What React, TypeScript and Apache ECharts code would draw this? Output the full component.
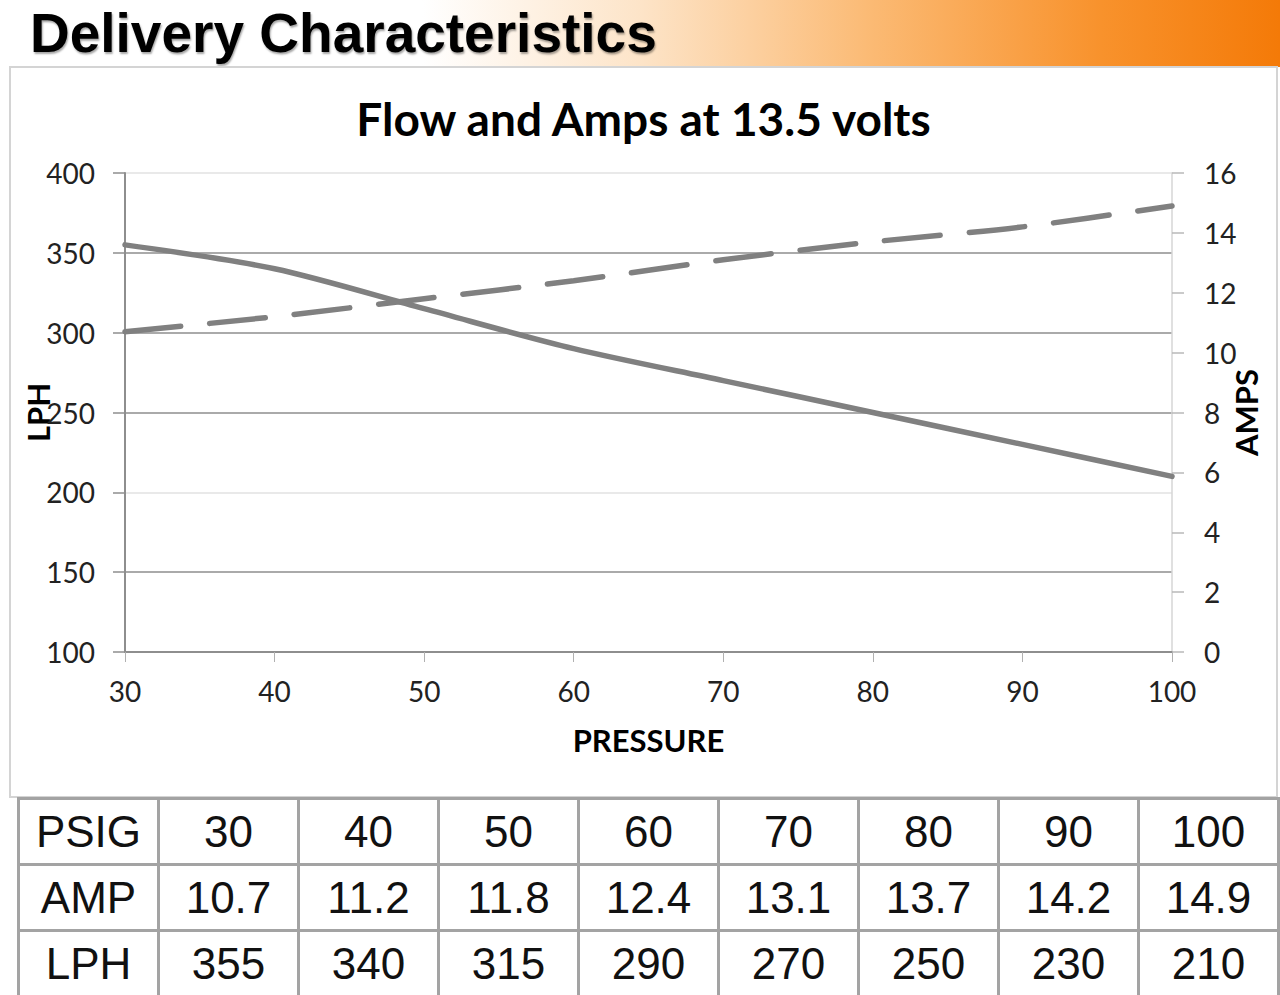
import React, { useEffect, useRef } from "react";
import * as echarts from "echarts";

const pressure = [30, 40, 50, 60, 70, 80, 90, 100];
const amps = [10.7, 11.2, 11.8, 12.4, 13.1, 13.7, 14.2, 14.9];
const lph = [355, 340, 315, 290, 270, 250, 230, 210];

const headerTitle = "Delivery Characteristics";
const chartTitle = "Flow and Amps at 13.5 volts";

const LINE_GRAY = "#808080";
const GRID_DARK = "#8e8e8e";
const GRID_LIGHT = "#e2e2e2";
const CHART_FONT = "Lato, 'Open Sans', sans-serif";

export default function App() {
  const ref = useRef<HTMLDivElement>(null);

  useEffect(() => {
    if (!ref.current) return;
    const chart = echarts.init(ref.current, null, { renderer: "svg" });
    chart.setOption({
      animation: false,
      backgroundColor: "#ffffff",
      title: {
        text: chartTitle,
        left: "center",
        top: 22,
        textStyle: {
          fontFamily: CHART_FONT,
          fontWeight: "bold",
          fontSize: 46,
          color: "#000",
        },
      },
      grid: {
        left: 114,
        right: 104,
        top: 105,
        bottom: 144,
        containLabel: false,
        outerBoundsMode: "none",
      },
      xAxis: {
        type: "value",
        min: 30,
        max: 100,
        interval: 10,
        name: "PRESSURE",
        nameLocation: "middle",
        nameGap: 72,
        nameMoveOverlap: false,
        nameTextStyle: {
          fontFamily: CHART_FONT,
          fontWeight: "bold",
          fontSize: 31,
          color: "#000",
        },
        axisLine: { show: true, lineStyle: { color: GRID_DARK, width: 2 } },
        axisTick: {
          show: true,
          length: 10,
          lineStyle: { color: "#b0b0b0", width: 1 },
        },
        splitLine: { show: false },
        axisLabel: {
          margin: 25,
          fontFamily: CHART_FONT,
          fontSize: 28,
          color: "#222",
        },
      },
      yAxis: [
        {
          type: "value",
          min: 100,
          max: 400,
          interval: 50,
          position: "left",
          name: "LPH",
          nameLocation: "middle",
          nameRotate: 90,
          nameGap: 72,
          nameMoveOverlap: false,
          nameTextStyle: {
            fontFamily: CHART_FONT,
            fontWeight: "bold",
            fontSize: 31,
            color: "#000",
          },
          axisLine: { show: true, lineStyle: { color: GRID_DARK, width: 2 } },
          axisTick: {
            show: true,
            length: 12,
            lineStyle: { color: GRID_DARK, width: 1.5 },
          },
          splitLine: {
            show: true,
            lineStyle: {
              color: [GRID_DARK, GRID_DARK, GRID_LIGHT, GRID_DARK, GRID_DARK, GRID_DARK, GRID_LIGHT],
              width: 1.5,
            },
          },
          axisLabel: {
            margin: 30,
            fontFamily: CHART_FONT,
            fontSize: 28,
            color: "#222",
          },
        },
        {
          type: "value",
          min: 0,
          max: 16,
          interval: 2,
          position: "right",
          name: "AMPS",
          nameLocation: "middle",
          nameRotate: 90,
          nameGap: 58,
          nameMoveOverlap: false,
          nameTextStyle: {
            fontFamily: CHART_FONT,
            fontWeight: "bold",
            fontSize: 31,
            color: "#000",
          },
          axisLine: { show: true, lineStyle: { color: "#d6d6d6", width: 1.5 } },
          axisTick: {
            show: true,
            length: 12,
            lineStyle: { color: "#b8b8b8", width: 1.5 },
          },
          splitLine: { show: false },
          axisLabel: {
            margin: 32,
            fontFamily: CHART_FONT,
            fontSize: 28,
            color: "#222",
          },
        },
      ],
      series: [
        {
          name: "LPH",
          type: "line",
          yAxisIndex: 0,
          smooth: 0.3,
          showSymbol: false,
          data: pressure.map((p, i) => [p, lph[i]]),
          lineStyle: { color: LINE_GRAY, width: 5.5, cap: "round" },
          itemStyle: { color: LINE_GRAY },
        },
        {
          name: "AMPS",
          type: "line",
          yAxisIndex: 1,
          smooth: 0.3,
          showSymbol: false,
          data: pressure.map((p, i) => [p, amps[i]]),
          lineStyle: {
            color: LINE_GRAY,
            width: 5.5,
            type: [56, 29],
            cap: "round",
          },
          itemStyle: { color: LINE_GRAY },
        },
      ],
    });
    return () => chart.dispose();
  }, []);

  const cell: React.CSSProperties = {
    border: "3px solid #a3a3a3",
    width: 140,
    height: 66,
    padding: 0,
    textAlign: "center",
    verticalAlign: "middle",
    fontFamily: "'Liberation Sans', Arial, sans-serif",
    fontSize: 44,
    color: "#111",
    boxSizing: "border-box",
  };

  const rows: { label: string; values: (string | number)[] }[] = [
    { label: "PSIG", values: pressure },
    { label: "AMP", values: amps.map((a) => a.toFixed(1)) },
    { label: "LPH", values: lph },
  ];

  return (
    <div
      style={{
        position: "absolute",
        left: 0,
        top: 0,
        width: 1280,
        height: 995,
        background: "#ffffff",
        overflow: "hidden",
      }}
    >
      <div
        style={{
          position: "absolute",
          left: 0,
          top: 0,
          width: 1280,
          height: 67,
          background:
            "linear-gradient(to right, #ffffff 0%, #ffffff 33%, #fde4c8 50%, #fbba74 68%, #f8922c 86%, #f47a08 100%)",
        }}
      >
        <div
          style={{
            position: "absolute",
            left: 30,
            top: 2,
            fontFamily: "'Liberation Sans', Arial, sans-serif",
            fontWeight: "bold",
            fontSize: 55,
            lineHeight: "62px",
            color: "#000",
            textShadow: "1px 2px 2px rgba(0,0,0,0.35)",
            whiteSpace: "nowrap",
          }}
        >
          {headerTitle}
        </div>
      </div>
      <div
        style={{
          position: "absolute",
          left: 9,
          top: 66,
          width: 1265,
          height: 728,
          border: "2px solid #d4d4d4",
          background: "#fff",
        }}
      >
        <div ref={ref} style={{ width: 1265, height: 728 }} />
      </div>
      <table
        style={{
          position: "absolute",
          left: 17,
          top: 797,
          borderCollapse: "collapse",
          tableLayout: "fixed",
          width: 1261,
        }}
      >
        <tbody>
          {rows.map((r) => (
            <tr key={r.label}>
              <td style={cell}>{r.label}</td>
              {r.values.map((v, i) => (
                <td key={i} style={cell}>
                  {v}
                </td>
              ))}
            </tr>
          ))}
        </tbody>
      </table>
    </div>
  );
}
